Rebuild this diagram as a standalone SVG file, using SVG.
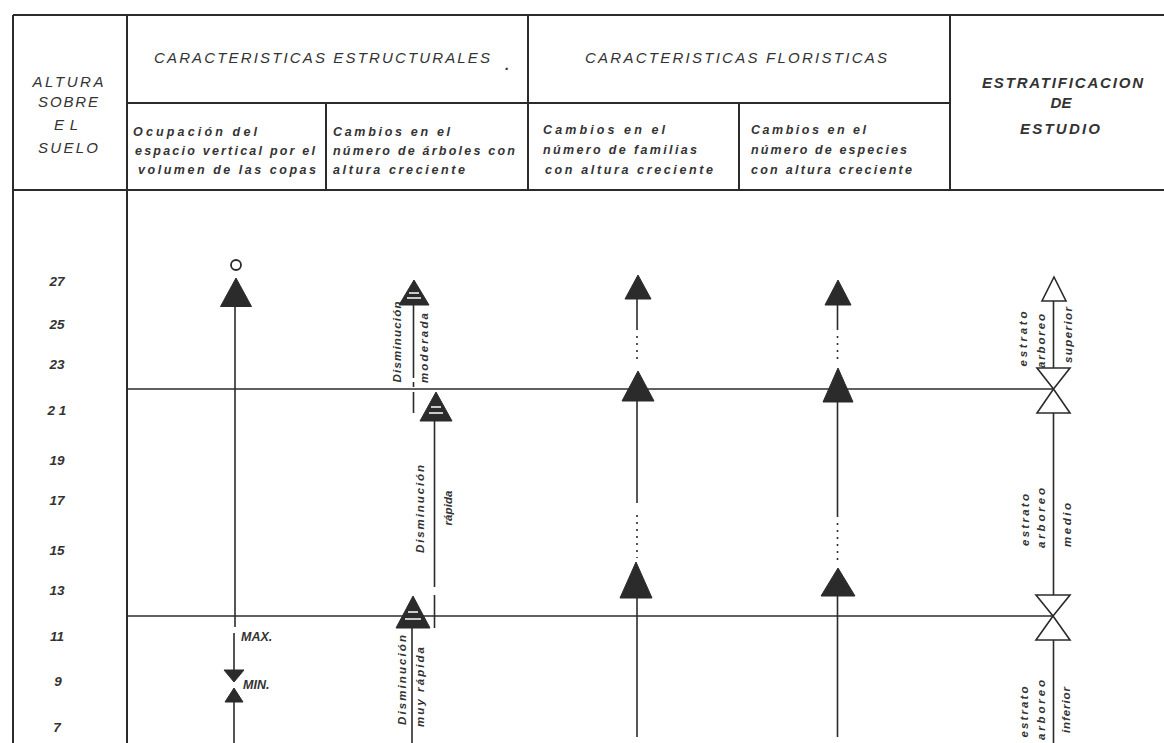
<svg xmlns="http://www.w3.org/2000/svg" width="1164" height="743" viewBox="0 0 1164 743">
<style>
.bg{fill:#ffffff}
.tl{stroke:#2b2b2b;stroke-width:2;fill:none}
.ln{stroke:#2b2b2b;stroke-width:1.6;fill:none}
.hd{font-family:"Liberation Sans",Arial,sans-serif;font-style:italic;fill:#333;font-size:15px}
.sh{font-family:"Liberation Sans",Arial,sans-serif;font-style:italic;font-weight:bold;fill:#333;font-size:12.5px}
.nm{font-family:"Liberation Sans",Arial,sans-serif;font-style:italic;font-weight:bold;fill:#333;font-size:13.5px;text-anchor:middle}
.mm{font-family:"Liberation Sans",Arial,sans-serif;font-style:italic;font-weight:bold;fill:#333;font-size:12.5px}
.rl{font-family:"Liberation Sans",Arial,sans-serif;font-style:italic;font-weight:bold;fill:#333;font-size:11.5px;text-anchor:middle;dominant-baseline:central}
.tri{fill:#2b2b2b;stroke:#2b2b2b;stroke-width:1}
.otri{fill:#fff;stroke:#2b2b2b;stroke-width:1.6}
.dot{stroke:#2b2b2b;stroke-width:1.6;fill:none;stroke-dasharray:2 5}
.wh{stroke:#fff;stroke-width:1.5}
</style>
<rect class="bg" x="0" y="0" width="1164" height="743"/>

<g id="table">
  <line class="tl" x1="13" y1="15" x2="1164" y2="15"/>
  <line class="tl" x1="13" y1="15" x2="13" y2="743"/>
  <line class="tl" x1="127" y1="15" x2="127" y2="743"/>
  <line class="tl" x1="528" y1="15" x2="528" y2="190"/>
  <line class="tl" x1="950" y1="15" x2="950" y2="190"/>
  <line class="tl" x1="127" y1="103" x2="950" y2="103"/>
  <line class="tl" x1="326" y1="103" x2="326" y2="190"/>
  <line class="tl" x1="739" y1="103" x2="739" y2="190"/>
  <line class="tl" x1="13" y1="190" x2="1164" y2="190"/>
</g>

<g id="header-altura">
  <text class="hd" x="68" y="87" text-anchor="middle" textLength="71" lengthAdjust="spacing">ALTURA</text>
  <text class="hd" x="68" y="107" text-anchor="middle" textLength="60" lengthAdjust="spacing">SOBRE</text>
  <text class="hd" x="66" y="130" text-anchor="middle" textLength="24" lengthAdjust="spacing">EL</text>
  <text class="hd" x="68" y="153" text-anchor="middle" textLength="60" lengthAdjust="spacing">SUELO</text>
</g>

<g id="header-estructurales">
  <text class="hd" x="154" y="63" textLength="336" lengthAdjust="spacing">CARACTERISTICAS ESTRUCTURALES</text>
  <text class="hd" x="505" y="70" font-size="18" font-weight="bold">.</text>
</g>
<g id="header-floristicas">
  <text class="hd" x="585" y="63" textLength="302" lengthAdjust="spacing">CARACTERISTICAS FLORISTICAS</text>
</g>
<g id="header-estratificacion">
  <text class="hd" x="982" y="88" font-weight="bold" textLength="161" lengthAdjust="spacing">ESTRATIFICACION</text>
  <text class="hd" x="1061" y="108" font-weight="bold" text-anchor="middle">DE</text>
  <text class="hd" x="1020" y="134" font-weight="bold" textLength="80" lengthAdjust="spacing">ESTUDIO</text>
</g>

<g id="sub-ocupacion">
  <text class="sh" x="133" y="136" textLength="124" lengthAdjust="spacing">Ocupación del</text>
  <text class="sh" x="135" y="155" textLength="180" lengthAdjust="spacing">espacio vertical por el</text>
  <text class="sh" x="138" y="174" textLength="178" lengthAdjust="spacing">volumen de las copas</text>
</g>
<g id="sub-arboles">
  <text class="sh" x="333" y="136" textLength="117" lengthAdjust="spacing">Cambios en el</text>
  <text class="sh" x="333" y="155" textLength="182" lengthAdjust="spacing">número de árboles con</text>
  <text class="sh" x="333" y="174" textLength="132" lengthAdjust="spacing">altura creciente</text>
</g>
<g id="sub-familias">
  <text class="sh" x="543" y="134" textLength="122" lengthAdjust="spacing">Cambios en el</text>
  <text class="sh" x="543" y="154" textLength="154" lengthAdjust="spacing">número de familias</text>
  <text class="sh" x="545" y="174" textLength="168" lengthAdjust="spacing">con altura creciente</text>
</g>
<g id="sub-especies">
  <text class="sh" x="751" y="134" textLength="115" lengthAdjust="spacing">Cambios en el</text>
  <text class="sh" x="751" y="154" textLength="156" lengthAdjust="spacing">número de especies</text>
  <text class="sh" x="751" y="174" textLength="161" lengthAdjust="spacing">con altura creciente</text>
</g>

<g id="scale">
  <text class="nm" x="57" y="286">27</text>
  <text class="nm" x="57" y="329">25</text>
  <text class="nm" x="57" y="369">23</text>
  <text class="nm" x="57" y="415">2 1</text>
  <text class="nm" x="57" y="465">19</text>
  <text class="nm" x="57" y="505">17</text>
  <text class="nm" x="57" y="555">15</text>
  <text class="nm" x="57" y="595">13</text>
  <text class="nm" x="57" y="641">11</text>
  <text class="nm" x="58" y="686">9</text>
  <text class="nm" x="57" y="732">7</text>
</g>

<g id="connectors">
  <line class="ln" x1="127" y1="389" x2="1053" y2="389"/>
  <line class="ln" x1="127" y1="616" x2="1053" y2="616"/>
  <line class="ln" x1="235" y1="305" x2="235" y2="627"/>
  <line class="ln" x1="234" y1="633" x2="234" y2="672"/>
  <line class="ln" x1="234" y1="700" x2="234" y2="743"/>
  <line class="ln" x1="413.5" y1="303" x2="413.5" y2="378"/>
  <line class="ln" x1="413.5" y1="382" x2="413.5" y2="387"/>
  <line class="ln" x1="413.5" y1="392" x2="413.5" y2="413"/>
  <line class="ln" x1="434.5" y1="419" x2="434.5" y2="587"/>
  <line class="ln" x1="434.5" y1="595" x2="434.5" y2="628"/>
  <line class="ln" x1="412" y1="626" x2="412" y2="743"/>
  <line class="ln" x1="637" y1="298" x2="637" y2="330"/>
  <line class="dot" x1="637" y1="336" x2="637" y2="364"/>
  <line class="ln" x1="637" y1="400" x2="637" y2="503"/>
  <line class="dot" x1="637" y1="515" x2="637" y2="558"/>
  <line class="ln" x1="637" y1="596" x2="637" y2="737"/>
  <line class="ln" x1="837.5" y1="303" x2="837.5" y2="330"/>
  <line class="dot" x1="837.5" y1="336" x2="837.5" y2="362"/>
  <line class="ln" x1="837.5" y1="400" x2="837.5" y2="517"/>
  <line class="dot" x1="837.5" y1="523" x2="837.5" y2="564"/>
  <line class="ln" x1="837.5" y1="594" x2="837.5" y2="737"/>
  <line class="ln" x1="1053.5" y1="300" x2="1053.5" y2="368"/>
  <line class="ln" x1="1053.5" y1="413" x2="1053.5" y2="595"/>
  <line class="ln" x1="1053.5" y1="640" x2="1053.5" y2="743"/>
</g>

<g id="col1-ocupacion">
  <circle cx="236" cy="265" r="5" fill="#fff" stroke="#2b2b2b" stroke-width="1.8"/>
  <polygon class="tri" points="236,278 251.5,306.5 220.5,306.5"/>
  <polygon class="tri" points="224,670 244,670 234,682"/>
  <polygon class="tri" points="234,688 243,702 225,702"/>
  <text class="mm" x="241" y="641">MAX.</text>
  <text class="mm" x="243" y="689">MIN.</text>
</g>

<g id="col2-arboles">
  <polygon class="tri" points="414,280 429,305 399,305"/>
  <line class="wh" x1="409" y1="293" x2="419" y2="293"/>
  <line class="wh" x1="407" y1="298" x2="421" y2="298"/>
  <polygon class="tri" points="436,392 452,421 420,421"/>
  <line class="wh" x1="431" y1="407" x2="441" y2="407"/>
  <line class="wh" x1="429" y1="413" x2="443" y2="413"/>
  <polygon class="tri" points="413,596 430,628 396,628"/>
  <line class="wh" x1="408" y1="612" x2="418" y2="612"/>
  <line class="wh" x1="405" y1="619" x2="421" y2="619"/>
  <text class="rl" transform="translate(397,342) rotate(-90)" textLength="81" lengthAdjust="spacing">Disminución</text>
  <text class="rl" transform="translate(424,348) rotate(-90)" textLength="70" lengthAdjust="spacing">moderada</text>
  <text class="rl" transform="translate(420,509) rotate(-90)" textLength="88" lengthAdjust="spacing">Disminución</text>
  <text class="rl" transform="translate(448,508) rotate(-90)" textLength="35" lengthAdjust="spacing">rápida</text>
  <text class="rl" transform="translate(402,680) rotate(-90)" textLength="90" lengthAdjust="spacing">Disminución</text>
  <text class="rl" transform="translate(420,687) rotate(-90)" textLength="80" lengthAdjust="spacing">muy rápida</text>
</g>

<g id="col3-familias">
  <polygon class="tri" points="638,275 651,299 625,299"/>
  <polygon class="tri" points="638,371 654,401 622,401"/>
  <polygon class="tri" points="636,562 652,598 620,598"/>
</g>

<g id="col4-especies">
  <polygon class="tri" points="838,280 851,305 825,305"/>
  <polygon class="tri" points="838,368 853,402 823,402"/>
  <polygon class="tri" points="838,568 855,596 821,596"/>
</g>

<g id="col5-estratificacion">
  <polygon class="otri" points="1054,277 1066,301 1042,301"/>
  <polygon class="otri" points="1037,368 1070,368 1053.5,389 1037,413 1070,413 1053.5,389"/>
  <polygon class="otri" points="1036,595 1070,595 1053,616 1036,640 1070,640 1053,616"/>
  <text class="rl" transform="translate(1023,339) rotate(-90)" textLength="55" lengthAdjust="spacing">estrato</text>
  <text class="rl" transform="translate(1041,341) rotate(-90)" textLength="54" lengthAdjust="spacing">arboreo</text>
  <text class="rl" transform="translate(1068,335) rotate(-90)" textLength="56" lengthAdjust="spacing">superior</text>
  <text class="rl" transform="translate(1025,520) rotate(-90)" textLength="52" lengthAdjust="spacing">estrato</text>
  <text class="rl" transform="translate(1041,518) rotate(-90)" textLength="60" lengthAdjust="spacing">arboreo</text>
  <text class="rl" transform="translate(1067,525) rotate(-90)" textLength="44" lengthAdjust="spacing">medio</text>
  <text class="rl" transform="translate(1024,712) rotate(-90)" textLength="51" lengthAdjust="spacing">estrato</text>
  <text class="rl" transform="translate(1041,710) rotate(-90)" textLength="60" lengthAdjust="spacing">arboreo</text>
  <text class="rl" transform="translate(1066,710) rotate(-90)" textLength="46" lengthAdjust="spacing">inferior</text>
</g>
</svg>
